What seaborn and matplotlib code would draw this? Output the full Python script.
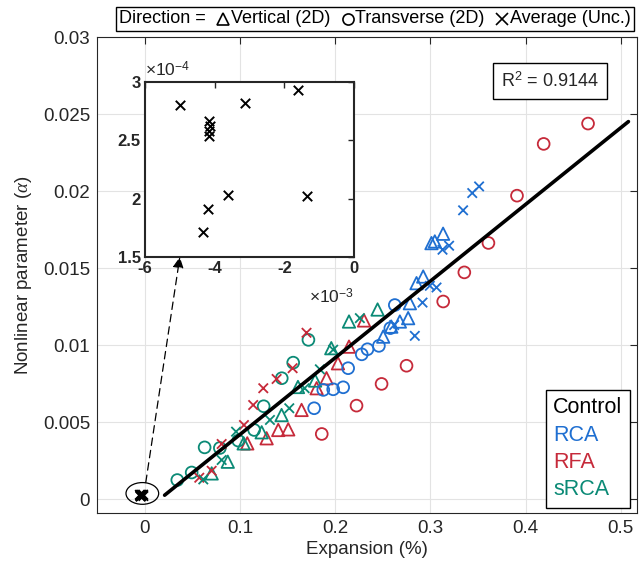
import numpy as np
import pandas as pd
import matplotlib.pyplot as plt
import seaborn as sns
from matplotlib.lines import Line2D
from matplotlib.patches import Ellipse, ConnectionPatch
from matplotlib.ticker import FuncFormatter
from matplotlib.offsetbox import AnchoredOffsetbox, HPacker, TextArea, DrawingArea

# 数据: expansion (%) 和 nonlinear parameter
rca_vert_x = [0.2505, 0.259, 0.268, 0.2767, 0.2785, 0.2855, 0.2925, 0.3012, 0.3047, 0.3134]
rca_vert_y = [0.01055, 0.0112, 0.01153, 0.01175, 0.01272, 0.01402, 0.01445, 0.01662, 0.01673, 0.01723]
rca_trans_x = [0.178, 0.1876, 0.198, 0.2085, 0.2137, 0.228, 0.234, 0.246, 0.258, 0.2627]
rca_trans_y = [0.0059, 0.00709, 0.00713, 0.00726, 0.0085, 0.0094, 0.00973, 0.00995, 0.0111, 0.0126]
rca_avg_x = [0.262, 0.2837, 0.2918, 0.2995, 0.3065, 0.3128, 0.3197, 0.3344, 0.344, 0.3512]
rca_avg_y = [0.0113, 0.0106, 0.01276, 0.01385, 0.01374, 0.01619, 0.01645, 0.01875, 0.01987, 0.0203]

rfa_vert_x = [0.1078, 0.1281, 0.1403, 0.1508, 0.1648, 0.1806, 0.191, 0.203, 0.2146, 0.2304]
rfa_vert_y = [0.00362, 0.00395, 0.00449, 0.00453, 0.00579, 0.0072, 0.00785, 0.00882, 0.0099, 0.0116]
rfa_trans_x = [0.186, 0.2225, 0.2488, 0.275, 0.3135, 0.3357, 0.361, 0.391, 0.419, 0.4656]
rfa_trans_y = [0.00423, 0.00607, 0.00748, 0.00866, 0.01283, 0.01472, 0.01663, 0.0197, 0.02306, 0.02438]
rfa_avg_x = [0.0574, 0.0704, 0.0809, 0.1043, 0.114, 0.1246, 0.1386, 0.1554, 0.170]
rfa_avg_y = [0.00139, 0.00184, 0.00358, 0.00481, 0.00611, 0.0072, 0.0078, 0.0085, 0.0108]

srca_vert_x = [0.0704, 0.0873, 0.1040, 0.1229, 0.1438, 0.161, 0.179, 0.196, 0.2146, 0.2446]
srca_vert_y = [0.00167, 0.00243, 0.00362, 0.00434, 0.00546, 0.00728, 0.0077, 0.0098, 0.01153, 0.01231]
srca_trans_x = [0.0343, 0.0494, 0.0630, 0.0790, 0.0983, 0.1150, 0.1250, 0.1440, 0.1560, 0.1720]
srca_trans_y = [0.00124, 0.00173, 0.00336, 0.00332, 0.0038, 0.00449, 0.00603, 0.00785, 0.00886, 0.01034]
srca_avg_x = [0.0616, 0.0809, 0.0960, 0.1316, 0.1519, 0.168, 0.184, 0.198, 0.226]
srca_avg_y = [0.00128, 0.00254, 0.00438, 0.00514, 0.0059, 0.0072, 0.00843, 0.0097, 0.01175]

control_x = [-5.0e-3, -4.15e-3, -4.13e-3, -4.15e-3, -4.17e-3, -3.13e-3, -1.60e-3, -3.63e-3, -1.34e-3, -4.18e-3, -4.33e-3]
control_y = [2.80e-4, 2.67e-4, 2.62e-4, 2.58e-4, 2.54e-4, 2.82e-4, 2.93e-4, 2.03e-4, 2.02e-4, 1.91e-4, 1.71e-4]

# 线性拟合结果
fit_slope = 0.0498
fit_intercept = -0.00079
fit_x = np.array([0.021, 0.508])
r2 = 0.9144

groups = ['Control', 'RCA', 'RFA', 'sRCA']
colors = {'Control': 'black', 'RCA': '#1f6fd1', 'RFA': '#c62a3a', 'sRCA': '#0b8a76'}
markers = {'Vertical': '^', 'Transverse': 'o', 'Average': 'x'}
sizes = {'Vertical': 80, 'Transverse': 72, 'Average': 46}

series = [
    ('RCA', 'Vertical', rca_vert_x, rca_vert_y),
    ('RCA', 'Transverse', rca_trans_x, rca_trans_y),
    ('RCA', 'Average', rca_avg_x, rca_avg_y),
    ('RFA', 'Vertical', rfa_vert_x, rfa_vert_y),
    ('RFA', 'Transverse', rfa_trans_x, rfa_trans_y),
    ('RFA', 'Average', rfa_avg_x, rfa_avg_y),
    ('sRCA', 'Vertical', srca_vert_x, srca_vert_y),
    ('sRCA', 'Transverse', srca_trans_x, srca_trans_y),
    ('sRCA', 'Average', srca_avg_x, srca_avg_y),
    ('Control', 'Average', control_x, control_y),
]
df = pd.concat([pd.DataFrame({'Group': g, 'Direction': d, 'Expansion': xs, 'Alpha': ys})
                for g, d, xs, ys in series], ignore_index=True)

sns.set_style('white')
plt.rcParams['font.family'] = ['Liberation Sans', 'DejaVu Sans']
plt.rcParams['axes.unicode_minus'] = False
plt.rcParams['mathtext.fontset'] = 'custom'
plt.rcParams['mathtext.rm'] = 'Liberation Sans'
plt.rcParams['mathtext.it'] = 'Liberation Serif:italic'

dark = '#262626'
fig = plt.figure(figsize=(6.44, 5.75), dpi=100)
ax = fig.add_axes([97 / 644, 1 - 513 / 575, 540 / 644, 476 / 575])

for direction, marker in markers.items():
    sub = df[df['Direction'] == direction]
    sns.scatterplot(data=sub, x='Expansion', y='Alpha', hue='Group', palette=colors,
                    marker=marker, s=sizes[direction], linewidth=1.3, legend=False, ax=ax, zorder=2)
    if marker != 'x':
        # 空心标记
        coll = ax.collections[-1]
        coll.set_edgecolors(coll.get_facecolors())
        coll.set_facecolors('none')

sns.lineplot(x=fit_x, y=fit_slope * fit_x + fit_intercept, color='black', lw=2.6, ax=ax, zorder=4)

ax.set_xlim(-0.05, 0.517)
ax.set_ylim(-0.0009, 0.03)
ax.set_xticks(np.arange(0, 0.51, 0.1))
ax.set_yticks(np.arange(0, 0.0301, 0.005))
ax.xaxis.set_major_formatter(FuncFormatter(lambda v, p: f'{round(v, 3):g}' if abs(v) > 1e-12 else '0'))
ax.yaxis.set_major_formatter(FuncFormatter(lambda v, p: f'{round(v, 4):g}' if abs(v) > 1e-12 else '0'))
ax.grid(True, color='#e3e3e3', lw=0.8)
ax.set_axisbelow(True)
ax.tick_params(direction='in', length=5, width=0.8, top=True, right=True, labelsize=13.5, colors=dark, pad=5)
for sp in ax.spines.values():
    sp.set_color(dark)
    sp.set_linewidth(0.8)
ax.set_xlabel('Expansion (%)', fontsize=13.5, labelpad=3)
ax.set_ylabel(r'Nonlinear parameter ($\alpha$)', fontsize=13.5, labelpad=6)

# 对照组的椭圆
ax.add_patch(Ellipse((-0.0024, 0.00037), 0.0343, 0.00141, fill=False, ec='black', lw=0.9, zorder=3))

ax.text(0.839, 0.9076, r'R$^2$ = ' + f'{r2:.4f}', transform=ax.transAxes, ha='center', va='center',
        fontsize=13, bbox=dict(boxstyle='square,pad=0.45', fc='white', ec='black', lw=1))

handles = [Line2D([], [], ls='none') for _ in groups]
leg = ax.legend(handles, groups, loc='lower right', bbox_to_anchor=(0.987, 0.0105), handlelength=0,
                handletextpad=0, labelcolor=[colors[g] for g in groups], fontsize=15.5, frameon=True,
                fancybox=False, edgecolor='black', framealpha=1, borderaxespad=0, labelspacing=0.3,
                borderpad=0.35)
leg.get_frame().set_linewidth(1)

# 放大图
axins = fig.add_axes([145 / 644, 1 - 257 / 575, 209 / 644, 175 / 575])
sns.scatterplot(x=control_x, y=control_y, color='black', marker='x', s=46, linewidth=1.4, ax=axins)
axins.set_xlim(-6e-3, 0)
axins.set_ylim(1.5e-4, 3e-4)
axins.set_xticks([-6e-3, -4e-3, -2e-3, 0])
axins.set_yticks([1.5e-4, 2e-4, 2.5e-4, 3e-4])
axins.xaxis.set_major_formatter(FuncFormatter(lambda v, p: f'{round(v / 1e-3, 3):g}'))
axins.yaxis.set_major_formatter(FuncFormatter(lambda v, p: f'{round(v / 1e-4, 3):g}'))
axins.tick_params(direction='in', length=4, width=1, top=True, right=True, labelsize=12, pad=3)
for lab in axins.get_xticklabels() + axins.get_yticklabels():
    lab.set_fontweight('bold')
for sp in axins.spines.values():
    sp.set_color(dark)
    sp.set_linewidth(1.5)
axins.text(0.0, 1.07, '×10$^{-4}$', transform=axins.transAxes, ha='left', va='center', fontsize=12.5)
axins.text(1.0, -0.225, '×10$^{-3}$', transform=axins.transAxes, ha='right', va='center', fontsize=12.5)

con = ConnectionPatch(xyA=(0.0012, 0.00108), coordsA=ax.transData, xyB=(-5e-3, 1.5e-4), coordsB=axins.transData,
                      arrowstyle='-|>', mutation_scale=16, linestyle=(0, (6, 4)), lw=0.9, color='black', zorder=5)
fig.add_artist(con)

# 顶部的方向图例
def marker_area(m):
    da = DrawingArea(9, 9, 0, 0)
    da.add_artist(Line2D([4.5], [4.5], marker=m, ms=8, mfc='none', mec='black', mew=1.2, ls='none'))
    return da

tp = dict(fontsize=13, color='black')
entries = [TextArea('Direction =', textprops=tp)]
for m, lab in [('^', 'Vertical (2D)'), ('o', 'Transverse (2D)'), ('x', 'Average (Unc.)')]:
    entries.append(HPacker(children=[marker_area(m), TextArea(lab, textprops=tp)], sep=1, align='center'))
top_box = AnchoredOffsetbox(loc='center', child=HPacker(children=entries, sep=8, align='center'),
                            pad=0.2, borderpad=0, frameon=True, prop=dict(size=13),
                            bbox_to_anchor=(0.582, 0.967), bbox_transform=fig.transFigure)
top_box.patch.set_boxstyle('square', pad=0)
top_box.patch.set_edgecolor('black')
top_box.patch.set_linewidth(1)
fig.add_artist(top_box)

fig.savefig('out.png', dpi=100)
